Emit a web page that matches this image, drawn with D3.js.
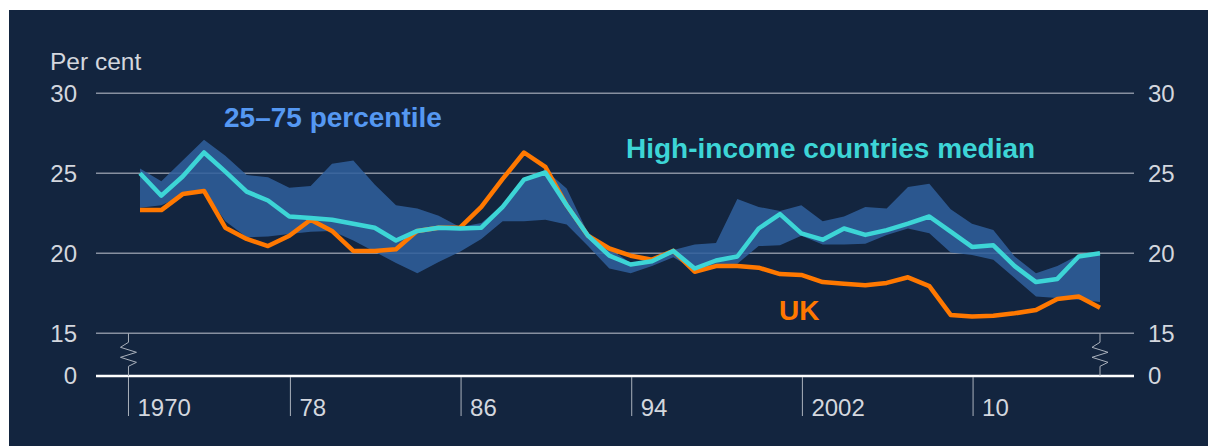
<!DOCTYPE html>
<html>
<head>
<meta charset="utf-8">
<script src="https://cdn.jsdelivr.net/npm/d3@7.9.0/dist/d3.min.js"></script>
<style>
  html, body { margin: 0; padding: 0; background: #fff; }
  svg { display: block; font-family: "Liberation Sans", Arial, sans-serif; }
</style>
</head>
<body>
<svg id="chart" width="1208" height="446"></svg>
<script>
// yearly values, 1970-2015
const years = d3.range(1970, 2016);
const median = [25.0, 23.6, 24.8, 26.3, 25.1, 23.85, 23.3, 22.3, 22.2, 22.1,
  21.85, 21.6, 20.8, 21.4, 21.6, 21.55, 21.6, 22.9, 24.6, 25.05,
  23.0, 21.1, 19.85, 19.3, 19.5, 20.15, 19.05, 19.55, 19.8, 21.55,
  22.45, 21.25, 20.85, 21.55, 21.15, 21.45, 21.85, 22.3, 21.35, 20.4,
  20.5, 19.2, 18.2, 18.4, 19.8, 20.0];
const uk = [22.7, 22.7, 23.7, 23.9, 21.6, 20.9, 20.45, 21.1, 22.1, 21.4,
  20.15, 20.15, 20.25, 21.4, 21.6, 21.6, 22.9, 24.65, 26.3, 25.4,
  23.0, 21.1, 20.3, 19.85, 19.6, 20.15, 18.85, 19.2, 19.2, 19.1,
  18.7, 18.65, 18.2, 18.1, 18.0, 18.15, 18.5, 17.95, 16.15, 16.05,
  16.1, 16.25, 16.45, 17.15, 17.3, 16.6];
const p75 = [25.3, 24.5, 25.8, 27.1, 26.1, 24.9, 24.75, 24.1, 24.2, 25.6,
  25.8, 24.3, 23.0, 22.8, 22.35, 21.65, 21.9, 23.0, 24.7, 25.2,
  24.05, 21.25, 20.3, 19.4, 19.6, 20.2, 20.55, 20.65, 23.4, 22.9,
  22.65, 23.0, 22.0, 22.3, 22.9, 22.8, 24.15, 24.35, 22.75, 21.85,
  21.45, 19.8, 18.75, 19.2, 19.9, 20.1];
const p25 = [22.85, 23.0, 23.6, 23.9, 22.0, 21.0, 21.05, 21.2, 21.35, 21.4,
  20.8, 20.1, 19.4, 18.75, 19.45, 20.1, 20.9, 22.0, 22.0, 22.1,
  21.8, 20.45, 19.05, 18.75, 19.2, 19.75, 18.95, 19.25, 19.35, 20.45,
  20.5, 21.1, 20.55, 20.55, 20.6, 21.15, 21.55, 21.25, 20.05, 19.9,
  19.6, 18.45, 17.3, 17.2, 17.1, 16.95];

const yTicks = [0, 15, 20, 25, 30];
const xTickYears = [1970, 1978, 1986, 1994, 2002, 2010];
const xTickLabels = ['1970', '78', '86', '94', '2002', '10'];

const svg = d3.select('#chart');

svg.append('rect')
  .attr('x', 9).attr('y', 10)
  .attr('width', 1199).attr('height', 436)
  .attr('fill', '#13253f');

// data points sit mid-year; axis has a break between 0 and 15
const x = d3.scaleLinear().domain([1970, 2015]).range([140, 1100]);
const y = d3.scaleLinear().domain([0, 15, 30]).range([376, 333.3, 93.3]);
const left = 96, right = 1134;

// gridlines
svg.selectAll('.grid')
  .data(yTicks.filter(d => d > 0))
  .join('line')
  .attr('x1', left).attr('x2', right)
  .attr('y1', d => y(d)).attr('y2', d => y(d))
  .attr('stroke', '#8790a0')
  .attr('stroke-width', 1.4);

// tick labels, both sides
svg.selectAll('.yl')
  .data(yTicks)
  .join('text')
  .attr('x', 77).attr('y', d => y(d))
  .attr('dy', '0.35em')
  .attr('text-anchor', 'end')
  .attr('font-size', 24)
  .attr('fill', '#d3d7de')
  .text(d => d);
svg.selectAll('.yr')
  .data(yTicks)
  .join('text')
  .attr('x', 1148).attr('y', d => y(d))
  .attr('dy', '0.35em')
  .attr('font-size', 24)
  .attr('fill', '#d3d7de')
  .text(d => d);

svg.append('text')
  .attr('x', 50).attr('y', 70)
  .attr('font-size', 24.5)
  .attr('fill', '#d3d7de')
  .text('Per cent');

// 25-75 band
const band = d3.area()
  .x((d, i) => x(years[i]))
  .y0((d, i) => y(p25[i]))
  .y1((d, i) => y(p75[i]));
svg.append('path')
  .attr('d', band(years))
  .attr('fill', '#30609c')
  .attr('fill-opacity', 0.86);

const line = d3.line().x((d, i) => x(years[i])).y(d => y(d));
svg.append('path')
  .attr('d', line(uk))
  .attr('fill', 'none')
  .attr('stroke', '#ff7800')
  .attr('stroke-width', 4.5)
  .attr('stroke-linejoin', 'round');
svg.append('path')
  .attr('d', line(median))
  .attr('fill', 'none')
  .attr('stroke', '#3dd5d6')
  .attr('stroke-width', 4.5)
  .attr('stroke-linejoin', 'round');

// zero line
svg.append('line')
  .attr('x1', left).attr('x2', right)
  .attr('y1', y(0)).attr('y2', y(0))
  .attr('stroke', '#ffffff')
  .attr('stroke-width', 2.5);

// x ticks: first one sits on the axis break
const tickX = (yr, i) => i === 0 ? x(1969.46) : x(yr - 0.95);
svg.selectAll('.xt')
  .data(xTickYears)
  .join('line')
  .attr('x1', tickX).attr('x2', tickX)
  .attr('y1', y(0) + 1).attr('y2', 416)
  .attr('stroke', '#aab1bc')
  .attr('stroke-width', 1);
svg.selectAll('.xl')
  .data(xTickYears)
  .join('text')
  .attr('x', (d, i) => tickX(d, i) + 9)
  .attr('y', 416)
  .attr('font-size', 24)
  .attr('fill', '#d3d7de')
  .text((d, i) => xTickLabels[i]);

// axis break symbols
function breakPath(cx) {
  const t = y(15), b = y(0);
  return `M${cx},${t}V${t + 9}L${cx - 8},${t + 14}L${cx + 8},${t + 19}` +
    `L${cx - 8},${t + 24}L${cx + 8},${t + 29}L${cx},${t + 33}V${b}`;
}
[x(1969.46), x(2015)].forEach(cx => {
  svg.append('path')
    .attr('d', breakPath(cx))
    .attr('fill', 'none')
    .attr('stroke', '#aab1bc')
    .attr('stroke-width', 1);
});

// labels
svg.append('text')
  .attr('x', 224).attr('y', 127)
  .attr('font-size', 28).attr('font-weight', 'bold')
  .attr('fill', '#5598f2')
  .text('25–75 percentile');
svg.append('text')
  .attr('x', 626).attr('y', 158)
  .attr('font-size', 28).attr('font-weight', 'bold')
  .attr('fill', '#3dd5d6')
  .text('High-income countries median');
svg.append('text')
  .attr('x', 779).attr('y', 320)
  .attr('font-size', 28).attr('font-weight', 'bold')
  .attr('fill', '#ff7800')
  .text('UK');
</script>
</body>
</html>
